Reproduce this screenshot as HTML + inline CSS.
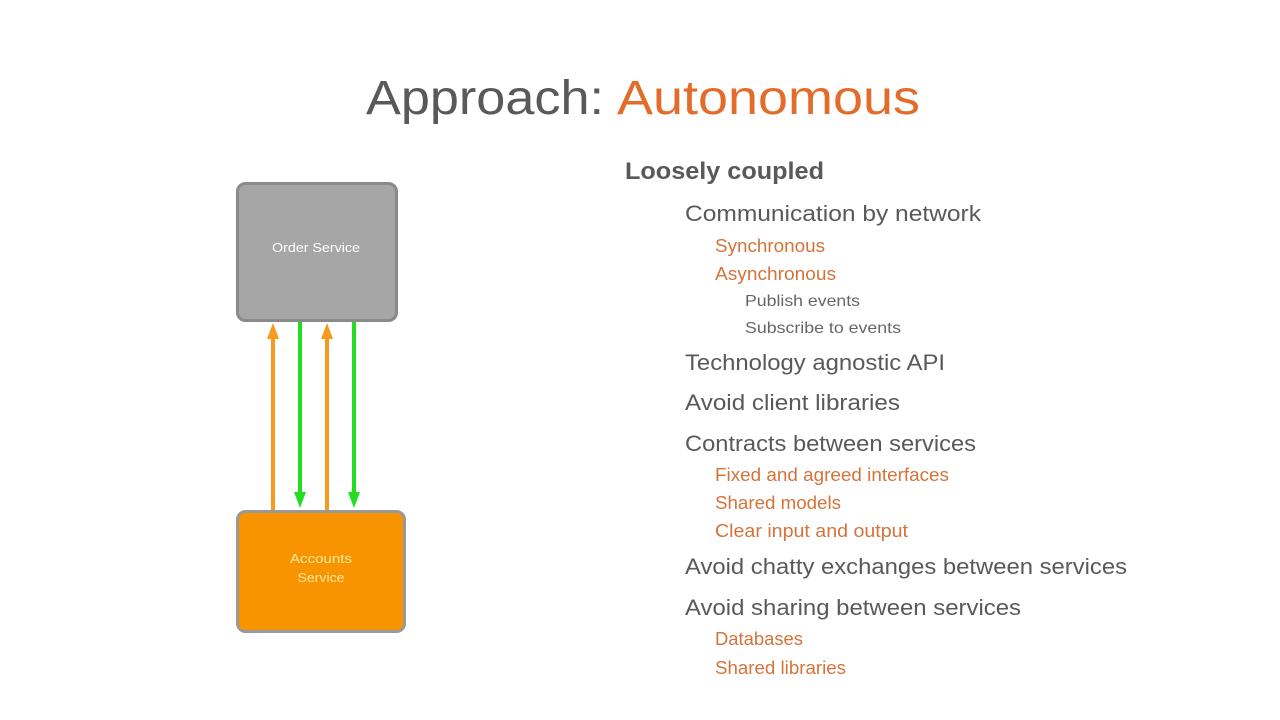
<!DOCTYPE html>
<html><head><style>html,body{margin:0;padding:0;background:#fff}svg{display:block}text{font-family:"Liberation Sans",sans-serif}</style></head>
<body>
<svg width="1280" height="720" viewBox="0 0 1280 720" xmlns="http://www.w3.org/2000/svg">
<rect width="1280" height="720" fill="#fff"/>
<text x="366" y="114" font-size="48" fill="#595959" textLength="238" lengthAdjust="spacingAndGlyphs">Approach:</text>
<text x="617" y="114" font-size="48" fill="#e46c2a" textLength="303" lengthAdjust="spacingAndGlyphs">Autonomous</text>

<rect x="237.5" y="183.5" width="159" height="137" rx="8" fill="#a6a6a6" stroke="#8a8a8a" stroke-width="3"/>
<text x="316" y="252" font-size="13" fill="#fff" text-anchor="middle" textLength="88" lengthAdjust="spacingAndGlyphs">Order Service</text>
<rect x="237.5" y="511.5" width="167" height="120" rx="8" fill="#f79400" stroke="#999" stroke-width="3"/>
<text x="321" y="563" font-size="13" fill="#ffe8a0" text-anchor="middle" textLength="62" lengthAdjust="spacingAndGlyphs">Accounts</text>
<text x="321" y="582" font-size="13" fill="#ffe8a0" text-anchor="middle" textLength="47" lengthAdjust="spacingAndGlyphs">Service</text>

<g stroke-width="4">
<line x1="273" y1="510" x2="273" y2="336" stroke="#f79a1e"/>
<line x1="327" y1="510" x2="327" y2="336" stroke="#f79a1e"/>
<line x1="300" y1="322" x2="300" y2="496" stroke="#22dd22"/>
<line x1="354" y1="322" x2="354" y2="496" stroke="#22dd22"/>
</g>
<polygon points="273,323 267,339 279,339" fill="#f79a1e"/>
<polygon points="327,323 321,339 333,339" fill="#f79a1e"/>
<polygon points="300,508 294,492 306,492" fill="#22dd22"/>
<polygon points="354,508 348,492 360,492" fill="#22dd22"/>

<g fill="#595959">
<text x="625" y="179" font-size="24" font-weight="bold" textLength="199" lengthAdjust="spacingAndGlyphs">Loosely coupled</text>
<text x="685" y="221" font-size="22" textLength="296" lengthAdjust="spacingAndGlyphs">Communication by network</text>
<text x="685" y="370" font-size="22" textLength="260" lengthAdjust="spacingAndGlyphs">Technology agnostic API</text>
<text x="685" y="410" font-size="22" textLength="215" lengthAdjust="spacingAndGlyphs">Avoid client libraries</text>
<text x="685" y="451" font-size="22" textLength="291" lengthAdjust="spacingAndGlyphs">Contracts between services</text>
<text x="685" y="574" font-size="22" textLength="442" lengthAdjust="spacingAndGlyphs">Avoid chatty exchanges between services</text>
<text x="685" y="615" font-size="22" textLength="336" lengthAdjust="spacingAndGlyphs">Avoid sharing between services</text>
</g>
<g fill="#d4733a" font-size="18">
<text x="715" y="252" textLength="110" lengthAdjust="spacingAndGlyphs">Synchronous</text>
<text x="715" y="280" textLength="121" lengthAdjust="spacingAndGlyphs">Asynchronous</text>
<text x="715" y="481" textLength="234" lengthAdjust="spacingAndGlyphs">Fixed and agreed interfaces</text>
<text x="715" y="509" textLength="126" lengthAdjust="spacingAndGlyphs">Shared models</text>
<text x="715" y="537" textLength="193" lengthAdjust="spacingAndGlyphs">Clear input and output</text>
<text x="715" y="645" textLength="88" lengthAdjust="spacingAndGlyphs">Databases</text>
<text x="715" y="674" textLength="131" lengthAdjust="spacingAndGlyphs">Shared libraries</text>
</g>
<g fill="#666" font-size="16">
<text x="745" y="306" textLength="115" lengthAdjust="spacingAndGlyphs">Publish events</text>
<text x="745" y="333" textLength="156" lengthAdjust="spacingAndGlyphs">Subscribe to events</text>
</g>
</svg>
</body></html>
